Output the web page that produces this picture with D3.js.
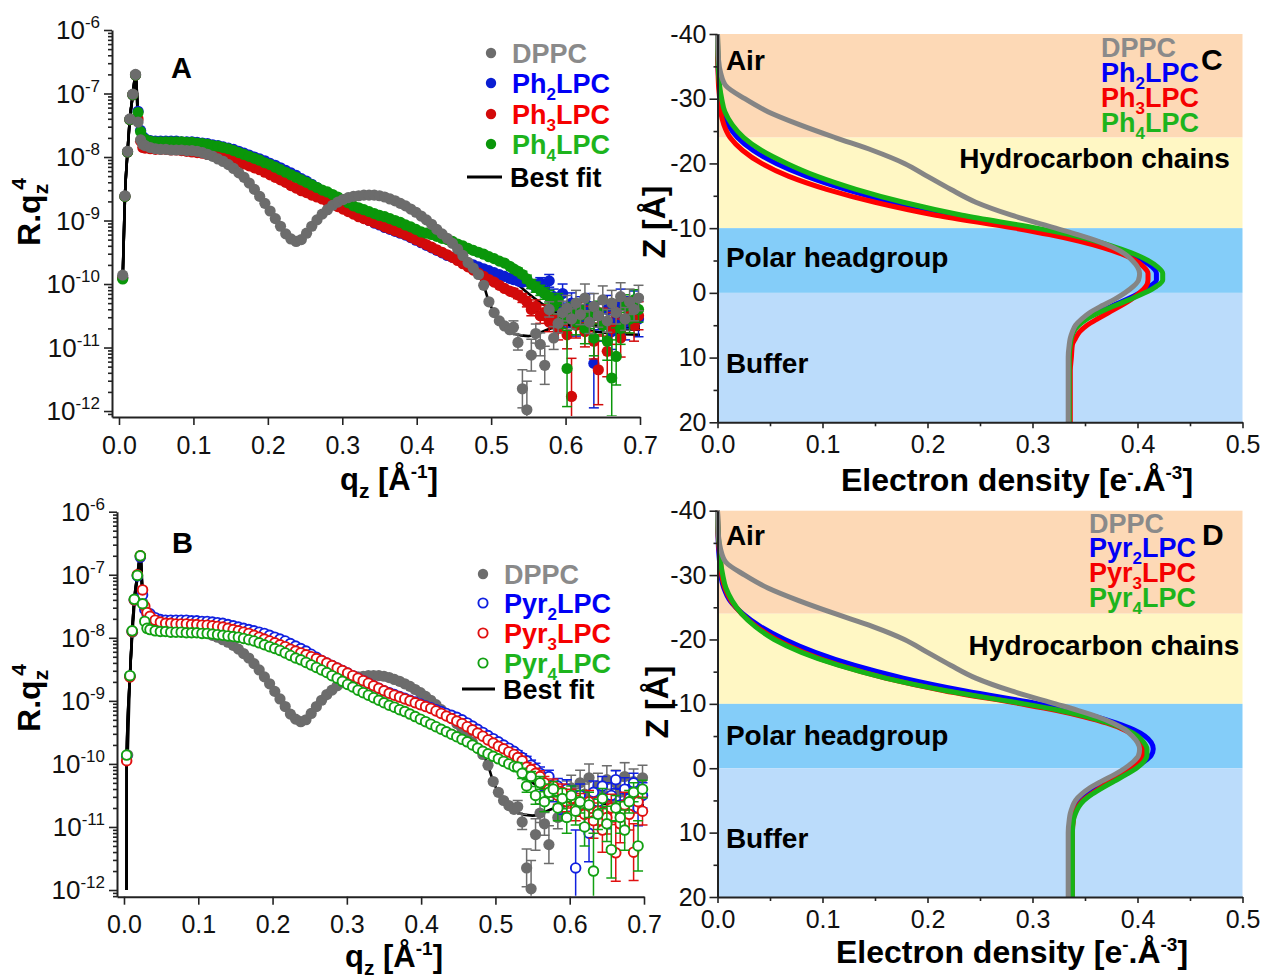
<!DOCTYPE html>
<meta charset="utf-8">
<title>Réflectivité et profils de densité électronique</title>
<style>
	body { margin: 0; background: #fff; }
	svg { display: block; font-family: "Liberation Sans", Arial, sans-serif; }
</style>
<body>
<div id="chart"></div>
<script src="https://cdn.jsdelivr.net/npm/d3@7"></script>
<script>
// ---------- DATA (log10 of R.qz^4) ----------
// q grid of the smooth part and of the noisy high-q part
var qGrid = d3.range(71).map(function (i) { return +(0.035 + 0.007 * i).toFixed(3); });
var qNoise = d3.range(29).map(function (j) { return +(0.53 + 0.006 * j).toFixed(3); });
var qPeakA = [0.005, 0.008, 0.0115, 0.0146, 0.0186, 0.0222, 0.0256, 0.029, 0.032];
var qPeakB = [0.0036, 0.008, 0.011, 0.0139, 0.018, 0.022, 0.025, 0.028, 0.031];
var qTail = [0.53, 0.55, 0.58, 0.62, 0.66, 0.70];
var fitStartB = [0.0034, -12.0];

var dppcPeak = [-9.86, -8.61, -7.91, -7.40, -7.01, -6.70, -7.45, -7.73, -7.80];
var dppcSmooth = [-7.82,-7.85,-7.87,-7.88,-7.88,-7.89,-7.89,-7.89,-7.90,-7.90,
	-7.91,-7.93,-7.96,-7.99,-8.03,-8.07,-8.12,-8.18,-8.25,-8.32,
	-8.41,-8.51,-8.62,-8.73,-8.85,-8.97,-9.09,-9.21,-9.29,-9.33,
	-9.30,-9.20,-9.09,-8.99,-8.90,-8.83,-8.76,-8.71,-8.67,-8.64,
	-8.62,-8.61,-8.60,-8.60,-8.60,-8.61,-8.63,-8.66,-8.69,-8.73,
	-8.77,-8.82,-8.87,-8.93,-8.99,-9.06,-9.14,-9.21,-9.28,-9.36,
	-9.45,-9.55,-9.66,-9.75,-9.85,-10.02,-10.28,-10.45,-10.58,-10.66,-10.72];
var dppcNoise = [-10.68,-10.92,-11.65,-11.98,-11.12,-10.78,-10.95,-11.28,-10.40,-10.85,
	-10.62,-10.45,-10.38,-10.55,-10.30,-10.48,-10.22,-10.60,-10.35,-10.50,
	-10.25,-10.58,-10.30,-10.45,-10.20,-10.55,-10.28,-10.40,-10.22];
var dppcErr = [0.10,0.12,0.30,0.45,0.25,0.15,0.18,0.30,0.12,0.18,0.15,0.18,0.20,0.16,0.20,
	0.16,0.22,0.18,0.20,0.18,0.22,0.18,0.20,0.18,0.22,0.18,0.20,0.18,0.20];
var dppcTail = [-10.78, -10.82, -10.70, -10.62, -10.64, -10.66];

var ph2Peak = [-9.90, -8.62, -7.92, -7.41, -7.02, -6.71, -7.28, -7.58, -7.68];
var ph2Smooth = [-7.71,-7.74,-7.75,-7.75,-7.75,-7.75,-7.75,-7.76,-7.76,-7.76,
	-7.77,-7.78,-7.79,-7.81,-7.82,-7.84,-7.86,-7.88,-7.91,-7.94,
	-7.97,-8.00,-8.03,-8.06,-8.10,-8.13,-8.17,-8.21,-8.25,-8.29,
	-8.34,-8.38,-8.43,-8.48,-8.54,-8.60,-8.66,-8.72,-8.77,-8.82,
	-8.87,-8.92,-8.96,-9.00,-9.04,-9.07,-9.11,-9.14,-9.17,-9.20,
	-9.23,-9.27,-9.31,-9.35,-9.39,-9.43,-9.47,-9.51,-9.55,-9.58,
	-9.61,-9.64,-9.67,-9.70,-9.73,-9.76,-9.79,-9.82,-9.85,-9.88,-9.91];
var ph2Noise = [-9.93,-9.95,-9.97,-9.95,-10.00,-10.05,-9.98,-10.10,-9.95,-10.20,
	-10.35,-10.15,-10.50,-10.30,-10.60,-10.40,-10.55,-10.35,-11.25,-10.50,
	-10.65,-10.40,-10.75,-10.55,-10.30,-10.60,-10.45,-10.35,-10.55];
var ph2Err = [0.05,0.05,0.06,0.06,0.07,0.08,0.08,0.10,0.10,0.12,0.14,0.15,0.18,0.16,0.22,
	0.20,0.22,0.20,0.70,0.22,0.25,0.22,0.28,0.25,0.22,0.28,0.25,0.24,0.28];
var ph2Tail = [-9.95, -10.15, -10.40, -10.60, -10.70, -10.72];

var ph3Peak = [-9.90, -8.62, -7.92, -7.41, -7.02, -6.71, -7.40, -7.75, -7.85];
var ph3Smooth = [-7.86,-7.87,-7.88,-7.88,-7.88,-7.89,-7.89,-7.90,-7.91,-7.92,
	-7.93,-7.94,-7.96,-7.97,-7.98,-8.00,-8.02,-8.05,-8.08,-8.11,
	-8.14,-8.17,-8.20,-8.24,-8.28,-8.32,-8.36,-8.40,-8.45,-8.49,
	-8.53,-8.56,-8.60,-8.63,-8.66,-8.70,-8.74,-8.78,-8.82,-8.86,
	-8.90,-8.94,-8.97,-9.00,-9.03,-9.06,-9.10,-9.13,-9.16,-9.19,
	-9.22,-9.26,-9.30,-9.34,-9.38,-9.42,-9.46,-9.50,-9.54,-9.58,
	-9.63,-9.68,-9.73,-9.78,-9.83,-9.88,-9.93,-9.97,-10.02,-10.07,-10.11];
var ph3Noise = [-10.13,-10.17,-10.22,-10.28,-10.40,-10.35,-10.50,-10.45,-10.60,-10.55,
	-10.70,-10.50,-10.80,-11.77,-10.65,-10.45,-10.75,-10.55,-10.90,-11.35,
	-10.60,-11.06,-10.70,-10.45,-10.85,-10.55,-10.40,-10.65,-10.50];
var ph3Err = [0.06,0.06,0.07,0.08,0.10,0.10,0.12,0.12,0.15,0.14,0.18,0.15,0.22,0.60,0.20,
	0.16,0.24,0.20,0.28,0.55,0.22,0.40,0.25,0.20,0.30,0.22,0.18,0.25,0.22];
var ph3Tail = [-10.15, -10.35, -10.55, -10.70, -10.78, -10.80];

var ph4Peak = [-9.92, -8.62, -7.92, -7.41, -7.02, -6.71, -7.30, -7.60, -7.70];
var ph4Smooth = [-7.72,-7.75,-7.76,-7.76,-7.76,-7.76,-7.76,-7.76,-7.77,-7.77,
	-7.78,-7.79,-7.80,-7.82,-7.83,-7.85,-7.87,-7.90,-7.93,-7.96,
	-7.99,-8.02,-8.05,-8.09,-8.12,-8.16,-8.20,-8.24,-8.28,-8.32,
	-8.36,-8.40,-8.44,-8.48,-8.52,-8.55,-8.59,-8.63,-8.67,-8.72,
	-8.77,-8.80,-8.83,-8.86,-8.89,-8.92,-8.94,-8.97,-9.00,-9.03,
	-9.07,-9.10,-9.14,-9.18,-9.20,-9.22,-9.25,-9.28,-9.30,-9.33,
	-9.37,-9.40,-9.44,-9.47,-9.50,-9.53,-9.57,-9.60,-9.64,-9.67,-9.72];
var ph4Noise = [-9.76,-9.80,-9.85,-9.92,-10.00,-10.05,-10.10,-10.15,-10.20,-10.35,
	-10.25,-10.55,-11.33,-10.45,-10.60,-10.40,-10.70,-10.50,-10.85,-10.45,
	-10.65,-10.90,-11.48,-11.14,-10.70,-10.35,-10.55,-10.25,-10.40];
var ph4Err = [0.04,0.05,0.05,0.06,0.07,0.08,0.08,0.09,0.10,0.12,0.10,0.15,0.60,0.16,0.20,
	0.16,0.24,0.20,0.28,0.18,0.24,0.30,0.60,0.45,0.25,0.18,0.22,0.16,0.20];
var ph4Tail = [-9.78, -10.00, -10.30, -10.55, -10.68, -10.70];

var pyr2Peak = [-9.88, -8.61, -7.90, -7.40, -7.02, -6.72, -7.32, -7.55, -7.62];
var pyr2Smooth = [-7.62,-7.68,-7.71,-7.72,-7.72,-7.72,-7.72,-7.72,-7.73,-7.73,
	-7.74,-7.74,-7.75,-7.76,-7.77,-7.79,-7.81,-7.83,-7.85,-7.87,
	-7.89,-7.91,-7.93,-7.96,-7.99,-8.02,-8.05,-8.09,-8.13,-8.17,
	-8.21,-8.26,-8.31,-8.36,-8.40,-8.44,-8.48,-8.52,-8.56,-8.60,
	-8.64,-8.68,-8.72,-8.76,-8.80,-8.84,-8.87,-8.90,-8.93,-8.96,
	-8.99,-9.02,-9.05,-9.08,-9.11,-9.14,-9.17,-9.20,-9.23,-9.26,
	-9.30,-9.35,-9.40,-9.45,-9.50,-9.55,-9.60,-9.65,-9.70,-9.75,-9.80];
var pyr2Noise = [-9.85,-9.90,-9.95,-10.02,-10.08,-10.15,-10.30,-10.20,-10.45,-10.35,
	-10.60,-10.40,-10.55,-11.65,-10.50,-10.70,-11.10,-10.45,-10.60,-10.35,
	-10.75,-10.50,-10.25,-10.65,-10.40,-10.55,-10.30,-10.70,-10.50];
var pyr2Err = [0.06,0.06,0.07,0.08,0.09,0.10,0.12,0.10,0.15,0.12,0.20,0.15,0.20,0.60,0.18,
	0.25,0.45,0.18,0.22,0.15,0.28,0.20,0.14,0.25,0.18,0.22,0.15,0.28,0.20];
var pyr2Tail = [-9.85, -10.10, -10.40, -10.55, -10.50, -10.45];

var pyr3Peak = [-9.95, -8.62, -7.90, -7.40, -7.00, -6.70, -7.24, -7.50, -7.60];
var pyr3Smooth = [-7.66,-7.72,-7.75,-7.77,-7.77,-7.78,-7.78,-7.78,-7.79,-7.79,
	-7.80,-7.80,-7.81,-7.82,-7.83,-7.85,-7.87,-7.89,-7.91,-7.93,
	-7.96,-7.99,-8.02,-8.05,-8.08,-8.11,-8.14,-8.18,-8.21,-8.24,
	-8.27,-8.30,-8.33,-8.36,-8.40,-8.44,-8.48,-8.52,-8.56,-8.60,
	-8.64,-8.68,-8.72,-8.76,-8.80,-8.84,-8.88,-8.91,-8.94,-8.97,
	-9.00,-9.03,-9.06,-9.09,-9.12,-9.16,-9.20,-9.24,-9.28,-9.32,
	-9.36,-9.41,-9.46,-9.51,-9.56,-9.62,-9.67,-9.72,-9.76,-9.81,-9.85];
var pyr3Noise = [-9.90,-9.95,-10.05,-10.09,-10.15,-10.20,-10.30,-10.40,-10.35,-10.50,
	-10.45,-10.60,-10.55,-10.70,-10.65,-10.80,-10.60,-10.90,-10.75,-11.05,
	-10.85,-10.70,-11.41,-10.95,-10.65,-10.80,-11.40,-10.60,-10.75];
var pyr3Err = [0.06,0.06,0.07,0.08,0.08,0.09,0.10,0.12,0.11,0.14,0.13,0.16,0.15,0.20,0.18,
	0.24,0.18,0.28,0.22,0.35,0.26,0.22,0.45,0.30,0.20,0.25,0.45,0.18,0.22];
var pyr3Tail = [-9.90, -10.15, -10.45, -10.62, -10.60, -10.55];

var pyr4Peak = [-9.86, -8.60, -7.89, -7.39, -7.01, -6.70, -7.46, -7.74, -7.85];
var pyr4Smooth = [-7.87,-7.89,-7.90,-7.90,-7.91,-7.91,-7.91,-7.92,-7.92,-7.92,
	-7.93,-7.93,-7.94,-7.95,-7.96,-7.97,-7.98,-7.99,-8.01,-8.03,
	-8.05,-8.08,-8.11,-8.14,-8.17,-8.20,-8.24,-8.28,-8.32,-8.35,
	-8.39,-8.43,-8.47,-8.51,-8.55,-8.60,-8.64,-8.69,-8.74,-8.78,
	-8.83,-8.87,-8.91,-8.95,-8.99,-9.03,-9.07,-9.10,-9.14,-9.17,
	-9.21,-9.25,-9.29,-9.33,-9.37,-9.41,-9.45,-9.49,-9.53,-9.57,
	-9.61,-9.65,-9.70,-9.75,-9.80,-9.84,-9.88,-9.92,-9.96,-10.00,-10.04];
var pyr4Noise = [-10.05,-10.15,-10.35,-10.20,-10.50,-10.30,-10.60,-10.45,-10.40,-10.70,
	-10.55,-10.85,-10.50,-10.75,-10.60,-11.00,-10.65,-11.70,-10.80,-10.55,
	-10.95,-11.36,-10.70,-10.85,-11.05,-10.60,-10.45,-11.30,-10.40];
var pyr4Err = [0.07,0.08,0.10,0.08,0.14,0.10,0.16,0.13,0.12,0.20,0.16,0.25,0.15,0.22,0.18,
	0.30,0.20,0.60,0.24,0.16,0.28,0.45,0.20,0.25,0.32,0.18,0.15,0.40,0.14];
var pyr4Tail = [-10.05, -10.30, -10.45, -10.50, -10.48, -10.45];

// ---------- DATA (electron density profiles) ----------
var zGrid = [-40,-36,-34,-32,-30,-28,-26,-24,-22,-20,-18,-16,-14,-12,-10,-9,-8,-7,-6,-5,
	-4,-3,-2,-1,0,1,2,3,4,5,6,7,8,10,12,15,20];
var rhoDPPC = [0,0.001,0.003,0.008,0.026,0.048,0.078,0.112,0.148,0.178,
	0.200,0.222,0.246,0.280,0.322,0.343,0.362,0.377,0.388,0.395,
	0.400,0.402,0.401,0.396,0.388,0.378,0.366,0.355,0.347,0.341,
	0.338,0.336,0.335,0.334,0.334,0.334,0.334];
var rhoPh2 = [0,0.0003,0.0008,0.0015,0.003,0.005,0.010,0.019,0.034,0.056,
	0.085,0.122,0.167,0.225,0.297,0.328,0.354,0.375,0.392,0.405,
	0.414,0.418,0.418,0.412,0.402,0.390,0.376,0.362,0.351,0.343,
	0.339,0.337,0.336,0.335,0.335,0.335,0.335];
var rhoPh3 = [0,0.0002,0.0005,0.001,0.002,0.003,0.006,0.012,0.024,0.042,
	0.068,0.104,0.150,0.208,0.283,0.316,0.344,0.367,0.385,0.398,
	0.406,0.410,0.410,0.408,0.402,0.394,0.384,0.373,0.362,0.352,
	0.345,0.341,0.338,0.337,0.336,0.336,0.336];
var rhoPh4 = [0,0.0005,0.001,0.002,0.004,0.007,0.014,0.025,0.042,0.066,
	0.095,0.132,0.177,0.233,0.304,0.335,0.360,0.380,0.397,0.410,
	0.419,0.424,0.424,0.418,0.407,0.393,0.378,0.364,0.352,0.344,
	0.339,0.337,0.336,0.335,0.335,0.335,0.335];
var rhoPyr2 = [0,0.0005,0.001,0.002,0.003,0.006,0.012,0.024,0.041,0.064,
	0.093,0.130,0.177,0.236,0.306,0.336,0.360,0.380,0.396,0.407,
	0.413,0.415,0.413,0.406,0.396,0.384,0.372,0.361,0.352,0.345,
	0.341,0.339,0.338,0.337,0.337,0.337,0.337];
var rhoPyr3 = [0,0.0006,0.0015,0.003,0.004,0.007,0.013,0.023,0.037,0.056,
	0.082,0.116,0.160,0.217,0.289,0.322,0.349,0.371,0.387,0.398,
	0.404,0.406,0.405,0.401,0.394,0.385,0.375,0.365,0.356,0.348,
	0.343,0.340,0.339,0.338,0.338,0.338,0.338];
var rhoPyr4 = [0,0.0008,0.002,0.003,0.005,0.008,0.014,0.023,0.036,0.054,
	0.080,0.115,0.160,0.219,0.292,0.325,0.352,0.373,0.389,0.400,
	0.406,0.409,0.409,0.406,0.399,0.389,0.378,0.367,0.357,0.349,
	0.344,0.341,0.339,0.338,0.338,0.338,0.338];

var bandNames = ["Air", "Hydrocarbon chains", "Polar headgroup", "Buffer"];
var bandFrom = [-40, -24, -10, 0];
var bandTo = [-24, -10, 0, 20];
var bandColors = ["#fdd9b6", "#fff7c4", "#84cdf9", "#bbdcfb"];

// ---------- SETUP ----------
var FONT = '"Liberation Sans", Arial, sans-serif';
var svg = d3.select("#chart").append("svg")
	.attr("width", 1267)
	.attr("height", 976);
svg.append("rect").attr("width", 1267).attr("height", 976).attr("fill", "#fff");

// texte avec indices / exposants : parts = [texte, décalage, taille, dx]
function richText(g, x, y, parts, opt) {
	var t = g.append("text")
		.attr("x", x).attr("y", y)
		.attr("font-family", FONT)
		.attr("font-size", opt.size)
		.attr("font-weight", opt.weight || "bold")
		.attr("fill", opt.color || "#000")
		.attr("text-anchor", opt.anchor || "start");
	if (opt.rotate) t.attr("transform", "rotate(-90," + x + "," + y + ")");
	var cur = 0;
	parts.forEach(function (p) {
		var shift = p[1] || 0;
		var ts = t.append("tspan")
			.attr("dy", shift - cur)
			.attr("font-size", p[2] || opt.size)
			.text(p[0]);
		if (p[3]) ts.attr("dx", p[3]);
		cur = shift;
	});
	return t;
}

function subName(stem, n) {
	return [[stem], [n, 7, 17], ["LPC", 0]];
}

function styleAxis(g, fs) {
	g.attr("font-family", FONT).attr("font-size", fs);
	g.select(".domain").attr("stroke", "#222").attr("stroke-width", 2);
	g.selectAll(".tick line").attr("stroke", "#222").attr("stroke-width", 1.6);
	g.selectAll(".tick text").attr("fill", "#111");
}

function buildPoints(s) {
	var pts = [];
	s.peakQ.forEach(function (q, i) { pts.push({ q: q, v: s.peak[i], e: 0 }); });
	qGrid.forEach(function (q, i) { pts.push({ q: q, v: s.smooth[i], e: 0 }); });
	qNoise.forEach(function (q, i) {
		if (i < s.noise.length) pts.push({ q: q, v: s.noise[i], e: s.err[i] });
	});
	return pts;
}

function buildFit(s) {
	var pts = [];
	if (s.fitStart) pts.push({ q: s.fitStart[0], v: s.fitStart[1] });
	s.peakQ.forEach(function (q, i) { pts.push({ q: q, v: s.peak[i] }); });
	qGrid.forEach(function (q, i) { pts.push({ q: q, v: s.smooth[i] }); });
	qTail.forEach(function (q, i) { pts.push({ q: q, v: s.tail[i] }); });
	return pts;
}

// ---------- REFLECTIVITY PANELS ----------
function drawRefl(p) {
	var x = d3.scaleLinear().domain([-0.0094, 0.7]).range([p.left, p.right]);
	var y = d3.scaleLog().domain([Math.pow(10, p.logMin), 1e-6]).range([p.bottom, p.top]);
	var g = svg.append("g");

	svg.append("clipPath").attr("id", "clip" + p.name)
		.append("rect")
		.attr("x", p.left + 1).attr("y", p.top - 10)
		.attr("width", p.right - p.left + 14).attr("height", p.bottom - p.top + 9);

	// axe des x
	var xAxis = g.append("g").attr("transform", "translate(0," + p.bottom + ")")
		.call(d3.axisBottom(x).tickValues(d3.range(8).map(function (i) { return i / 10; }))
			.tickSize(8).tickSizeOuter(0).tickPadding(11).tickFormat(d3.format(".1f")));
	styleAxis(xAxis, 25);

	// axe des y (log) : majeures + mineures
	var majors = d3.range(-12, -5).map(function (n) { return Math.pow(10, n); });
	var minors = [];
	d3.range(-13, -6).forEach(function (n) {
		d3.range(2, 10).forEach(function (k) {
			var v = k * Math.pow(10, n);
			if (v > Math.pow(10, p.logMin) && v < 1e-6) minors.push(v);
		});
	});
	var yAxis = g.append("g").attr("transform", "translate(" + p.left + ",0)")
		.call(d3.axisLeft(y).tickValues(majors).tickSize(8).tickSizeOuter(0).tickFormat(""));
	styleAxis(yAxis, 25);
	var yMinor = g.append("g").attr("transform", "translate(" + p.left + ",0)")
		.call(d3.axisLeft(y).tickValues(minors).tickSize(4).tickSizeOuter(0).tickFormat(""));
	styleAxis(yMinor, 25);
	yMinor.select(".domain").remove();

	d3.range(-12, -5).forEach(function (n) {
		richText(g, p.left - 12, y(Math.pow(10, n)) + 9, [["10"], [String(n), -11, 17]],
			{ size: 26, weight: "normal", anchor: "end", color: "#111" });
	});

	var plot = g.append("g").attr("clip-path", "url(#clip" + p.name + ")");

	// courbes d'ajustement
	var line = d3.line()
		.x(function (d) { return x(d.q); })
		.y(function (d) { return y(Math.pow(10, d.v)); })
		.curve(d3.curveMonotoneX);
	p.order.forEach(function (s) {
		plot.append("path").datum(buildFit(s))
			.attr("d", line)
			.attr("fill", "none")
			.attr("stroke", "#000")
			.attr("stroke-width", 2.6);
	});

	// points et barres d'erreur
	p.order.forEach(function (s) {
		var pts = buildPoints(s);
		var eb = plot.append("g").attr("stroke", s.color).attr("stroke-width", 1.5);
		pts.filter(function (d) { return d.e > 0; }).forEach(function (d) {
			var cx = x(d.q), y1 = y(Math.pow(10, d.v + d.e)), y2 = y(Math.pow(10, d.v - d.e));
			eb.append("line").attr("x1", cx).attr("x2", cx).attr("y1", y1).attr("y2", y2);
			eb.append("line").attr("x1", cx - 5).attr("x2", cx + 5).attr("y1", y1).attr("y2", y1);
			eb.append("line").attr("x1", cx - 5).attr("x2", cx + 5).attr("y1", y2).attr("y2", y2);
		});
		plot.append("g").selectAll("circle")
			.data(pts)
			.join("circle")
			.attr("cx", function (d) { return x(d.q); })
			.attr("cy", function (d) { return y(Math.pow(10, d.v)); })
			.attr("r", s.open ? 4.8 : 5.6)
			.attr("fill", s.open ? "#fff" : s.color)
			.attr("stroke", s.color)
			.attr("stroke-width", s.open ? 1.9 : 0);
	});

	// légende
	p.legend.forEach(function (s, i) {
		var cy = p.legY[i];
		g.append("circle").attr("cx", p.legDotX).attr("cy", cy).attr("r", s.open ? 4.6 : 5.2)
			.attr("fill", s.open ? "#fff" : s.color).attr("stroke", s.color)
			.attr("stroke-width", s.open ? 1.9 : 0);
		richText(g, p.legTextX, cy + 10, s.label, { size: 27, color: s.textColor });
	});
	var fy = p.legY[p.legend.length];
	g.append("line").attr("x1", p.fitX1).attr("x2", p.fitX2).attr("y1", fy).attr("y2", fy)
		.attr("stroke", "#000").attr("stroke-width", 3);
	richText(g, p.fitTextX, fy + 10, [["Best fit"]], { size: 27 });

	richText(g, p.letterX, p.letterY, [[p.letter]], { size: 29 });
	richText(g, p.xLabX, p.xLabY, [["q"], ["z", 8, 21], [" [Å", 0], ["-1", -12, 19], ["]", 0]],
		{ size: 31, anchor: "middle" });
	richText(g, p.yLabX, p.yLabY, [["R.q"], ["z", 8, 21], ["4", -14, 21, -6]],
		{ size: 32, anchor: "middle", rotate: true });
}

var sDPPC = { peakQ: qPeakA, peak: dppcPeak, smooth: dppcSmooth, noise: dppcNoise, err: dppcErr,
	tail: dppcTail, color: "#6c6c6c", textColor: "#8a8a8a", label: [["DPPC"]] };
var sPh2 = { peakQ: qPeakA, peak: ph2Peak, smooth: ph2Smooth, noise: ph2Noise, err: ph2Err,
	tail: ph2Tail, color: "#0a1ed2", textColor: "#0000f5", label: subName("Ph", "2") };
var sPh3 = { peakQ: qPeakA, peak: ph3Peak, smooth: ph3Smooth, noise: ph3Noise, err: ph3Err,
	tail: ph3Tail, color: "#d20a0a", textColor: "#f50000", label: subName("Ph", "3") };
var sPh4 = { peakQ: qPeakA, peak: ph4Peak, smooth: ph4Smooth, noise: ph4Noise, err: ph4Err,
	tail: ph4Tail, color: "#0a960a", textColor: "#1db41d", label: subName("Ph", "4") };
var sPyr2 = { peakQ: qPeakB, peak: pyr2Peak, smooth: pyr2Smooth, noise: pyr2Noise, err: pyr2Err,
	tail: pyr2Tail, fitStart: fitStartB, open: true, color: "#1020e0", textColor: "#0000f5",
	label: subName("Pyr", "2") };
var sPyr3 = { peakQ: qPeakB, peak: pyr3Peak, smooth: pyr3Smooth, noise: pyr3Noise, err: pyr3Err,
	tail: pyr3Tail, fitStart: fitStartB, open: true, color: "#e01010", textColor: "#f50000",
	label: subName("Pyr", "3") };
var sPyr4 = { peakQ: qPeakB, peak: pyr4Peak, smooth: pyr4Smooth, noise: pyr4Noise, err: pyr4Err,
	tail: pyr4Tail, fitStart: fitStartB, open: true, color: "#12a012", textColor: "#1db41d",
	label: subName("Pyr", "4") };

drawRefl({
	name: "A", left: 112, right: 640, top: 30, bottom: 417, logMin: -12.094,
	order: [sPh2, sPh3, sPh4, sDPPC],
	legend: [sDPPC, sPh2, sPh3, sPh4],
	legY: [53, 83, 114, 144, 177], legDotX: 491, legTextX: 512,
	fitX1: 467, fitX2: 502, fitTextX: 510,
	letter: "A", letterX: 171, letterY: 78,
	xLabX: 389, xLabY: 490, yLabX: 40, yLabY: 212
});

drawRefl({
	name: "B", left: 117, right: 644, top: 511.7, bottom: 896.7, logMin: -12.106,
	order: [sDPPC, sPyr2, sPyr3, sPyr4],
	legend: [sDPPC, sPyr2, sPyr3, sPyr4],
	legY: [574, 603, 633, 663, 689], legDotX: 483, legTextX: 504,
	fitX1: 462, fitX2: 495, fitTextX: 503,
	letter: "B", letterX: 172, letterY: 553,
	xLabX: 394, xLabY: 967, yLabX: 40, yLabY: 698
});

// ---------- ELECTRON DENSITY PANELS ----------
function drawDensity(p) {
	var x = d3.scaleLinear().domain([0, 0.5]).range([717.5, 1242.5]);
	var y = d3.scaleLinear().domain([-40, 20]).range([p.top, p.bottom]);
	var g = svg.append("g");

	g.selectAll("rect.band")
		.data(bandNames)
		.join("rect")
		.attr("class", "band")
		.attr("x", x(0))
		.attr("width", x(0.5) - x(0))
		.attr("y", function (d, i) { return y(bandFrom[i]); })
		.attr("height", function (d, i) { return y(bandTo[i]) - y(bandFrom[i]); })
		.attr("fill", function (d, i) { return bandColors[i]; });

	var line = d3.line()
		.x(function (d) { return x(d[1]); })
		.y(function (d) { return y(d[0]); })
		.curve(d3.curveMonotoneY);
	// ordre de tracé : la courbe grise par-dessus
	p.order.forEach(function (c) {
		g.append("path")
			.datum(zGrid.map(function (z, i) { return [z, c.rho[i]]; }))
			.attr("d", line)
			.attr("fill", "none")
			.attr("stroke", c.color)
			.attr("stroke-width", 5)
			.attr("stroke-linejoin", "round");
	});

	var xAxis = g.append("g").attr("transform", "translate(0," + p.bottom + ")")
		.call(d3.axisBottom(x).tickValues(d3.range(6).map(function (i) { return i / 10; }))
			.tickSize(6).tickSizeOuter(0).tickPadding(7).tickFormat(d3.format(".1f")));
	styleAxis(xAxis, 25);
	var xMinor = g.append("g").attr("transform", "translate(0," + p.bottom + ")")
		.call(d3.axisBottom(x).tickValues([0.05, 0.15, 0.25, 0.35, 0.45]).tickSize(4).tickFormat(""));
	styleAxis(xMinor, 25);
	xMinor.select(".domain").remove();

	var yAxis = g.append("g").attr("transform", "translate(" + x(0) + ",0)")
		.call(d3.axisLeft(y).tickValues([-40, -30, -20, -10, 0, 10, 20]).tickSize(8)
			.tickSizeOuter(0).tickPadding(3).tickFormat(function (d) { return String(d); }));
	styleAxis(yAxis, 25);
	var yMinor = g.append("g").attr("transform", "translate(" + x(0) + ",0)")
		.call(d3.axisLeft(y).tickValues([-35, -25, -15, -5, 5, 15]).tickSize(4).tickFormat(""));
	styleAxis(yMinor, 25);
	yMinor.select(".domain").remove();

	// noms des régions
	bandNames.forEach(function (name, i) {
		var pos = p.regions[i];
		richText(g, x(pos[0]), pos[1], [[name]], { size: 28, anchor: i === 1 ? "end" : "start" });
	});

	// légende
	p.legend.forEach(function (c, i) {
		richText(g, p.legX, p.legY[i], c.label, { size: 27, color: c.textColor });
	});
	richText(g, p.letterX, p.letterY, [[p.letter]], { size: 30 });

	richText(g, p.xLabX, p.xLabY, [["Electron density [e"], ["-", -12, 19], [".Å", 0], ["-3", -12, 19], ["]", 0]],
		{ size: 32, anchor: "middle" });
	richText(g, p.yLabX, p.yLabY, [["Z [Å]"]], { size: 32, anchor: "middle", rotate: true });
}

var cDPPC = { rho: rhoDPPC, color: "#858585", textColor: "#8a8a8a", label: [["DPPC"]] };
var cPh2 = { rho: rhoPh2, color: "#0000ff", textColor: "#0000f5", label: subName("Ph", "2") };
var cPh3 = { rho: rhoPh3, color: "#ff0000", textColor: "#f50000", label: subName("Ph", "3") };
var cPh4 = { rho: rhoPh4, color: "#17b417", textColor: "#1db41d", label: subName("Ph", "4") };
var cPyr2 = { rho: rhoPyr2, color: "#0000ff", textColor: "#0000f5", label: subName("Pyr", "2") };
var cPyr3 = { rho: rhoPyr3, color: "#ff0000", textColor: "#f50000", label: subName("Pyr", "3") };
var cPyr4 = { rho: rhoPyr4, color: "#17b417", textColor: "#1db41d", label: subName("Pyr", "4") };

drawDensity({
	top: 34, bottom: 422.3,
	order: [cPh2, cPh3, cPh4, cDPPC],
	legend: [cDPPC, cPh2, cPh3, cPh4],
	regions: [[0.008, 70], [0.488, 168], [0.008, 267], [0.008, 373]],
	legX: 1101, legY: [57, 82, 107, 132],
	letter: "C", letterX: 1201, letterY: 70,
	xLabX: 1017, xLabY: 491, yLabX: 665, yLabY: 222
});

drawDensity({
	top: 510.7, bottom: 897,
	order: [cPyr2, cPyr3, cPyr4, cDPPC],
	legend: [cDPPC, cPyr2, cPyr3, cPyr4],
	regions: [[0.008, 545], [0.497, 655], [0.008, 745], [0.008, 848]],
	legX: 1089, legY: [533, 557, 582, 607],
	letter: "D", letterX: 1202, letterY: 545,
	xLabX: 1012, xLabY: 963, yLabX: 668, yLabY: 702
});
</script>
</body>
